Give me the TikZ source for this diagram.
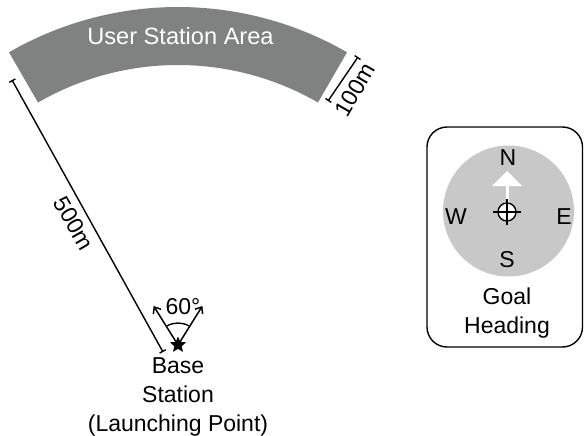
\documentclass[tikz,border=0pt]{standalone}
\usepackage{fontspec}
\setmainfont{Liberation Sans}
\usetikzlibrary{arrows.meta,shapes.geometric,calc}
\definecolor{areagray}{RGB}{128,130,130}
\definecolor{dialgray}{RGB}{200,200,200}
\begin{document}
\begin{tikzpicture}[x=1pt,y=1pt,
  lbl/.style={font=\fontsize{23}{29}\selectfont,inner sep=0pt,align=center},
  dimline/.style={line width=1.4pt,{Bar[width=7pt,line width=1.4pt]}-{Bar[width=7pt,line width=1.4pt]}},
  anglearrow/.style={line width=1.5pt,-{Straight Barb[length=5.5pt,width=9pt,line width=1.5pt]}}]
\useasboundingbox (0,0) rectangle (584,-436);
% center of sector / base station
\coordinate (C) at (178,-345);
% user station area sector
\fill[areagray] ($(C)+(120:338)$) arc[start angle=120,end angle=60,radius=338pt]
  -- ($(C)+(60:280)$) arc[start angle=60,end angle=120,radius=280pt] -- cycle;
\node[lbl,text=white,font=\fontsize{23.6}{29}\selectfont] (usa) at (180.5,-36) {User Station Area};
% dimension lines
\coordinate (d5a) at (12,-80);
\coordinate (d5b) at (163,-352);
\draw[dimline] (d5a) -- (d5b);
\node[lbl,rotate=-60] (l500) at (74,-223) {500m};
\coordinate (d1a) at (328,-101);
\coordinate (d1b) at (358,-57);
\draw[dimline] (d1a) -- (d1b);
\node[lbl,rotate=60] (l100) at (355,-90) {100m};
% base station
\node[star,star points=5,star point ratio=2.2,fill=black,inner sep=0pt,minimum size=17pt] (bs) at (C) {};
\coordinate (aL) at ($(C)+(122:46)$);
\coordinate (aR) at ($(C)+(58:46)$);
\draw[anglearrow] (C) -- (aL);
\draw[anglearrow] (C) -- (aR);
\draw[line width=1.4pt] ($(C)+(60:22)$) arc[start angle=60,end angle=120,radius=22pt];
\node[lbl] (ang) at (183,-307) {60°};
\node[lbl] (bslbl) at (178,-397) {Base\\Station\\(Launching Point)};
% goal heading box
\draw[line width=1.4pt,rounded corners=20pt] (427,-127) rectangle (582.5,-347);
\fill[dialgray] (508.5,-211) circle[radius=65.5pt];
\node[lbl] (N) at (508,-158) {N};
\node[lbl] (W) at (456,-217) {W};
\node[lbl] (E) at (564,-217) {E};
\node[lbl] (S) at (507,-260) {S};
% white arrow
\draw[white,line width=3pt] (507,-203) -- (507,-184);
\fill[white] (492,-186) -- (522,-186) -- (507,-171) -- cycle;
% crosshair
\draw[line width=1.4pt,fill=white] (507,-212) circle[radius=9pt];
\draw[line width=1.5pt] (493,-212) -- (521,-212);
\draw[line width=1.5pt] (507,-199) -- (507,-225);
\node[lbl] (goal) at (507,-313) {Goal\\Heading};
\end{tikzpicture}
\end{document}
